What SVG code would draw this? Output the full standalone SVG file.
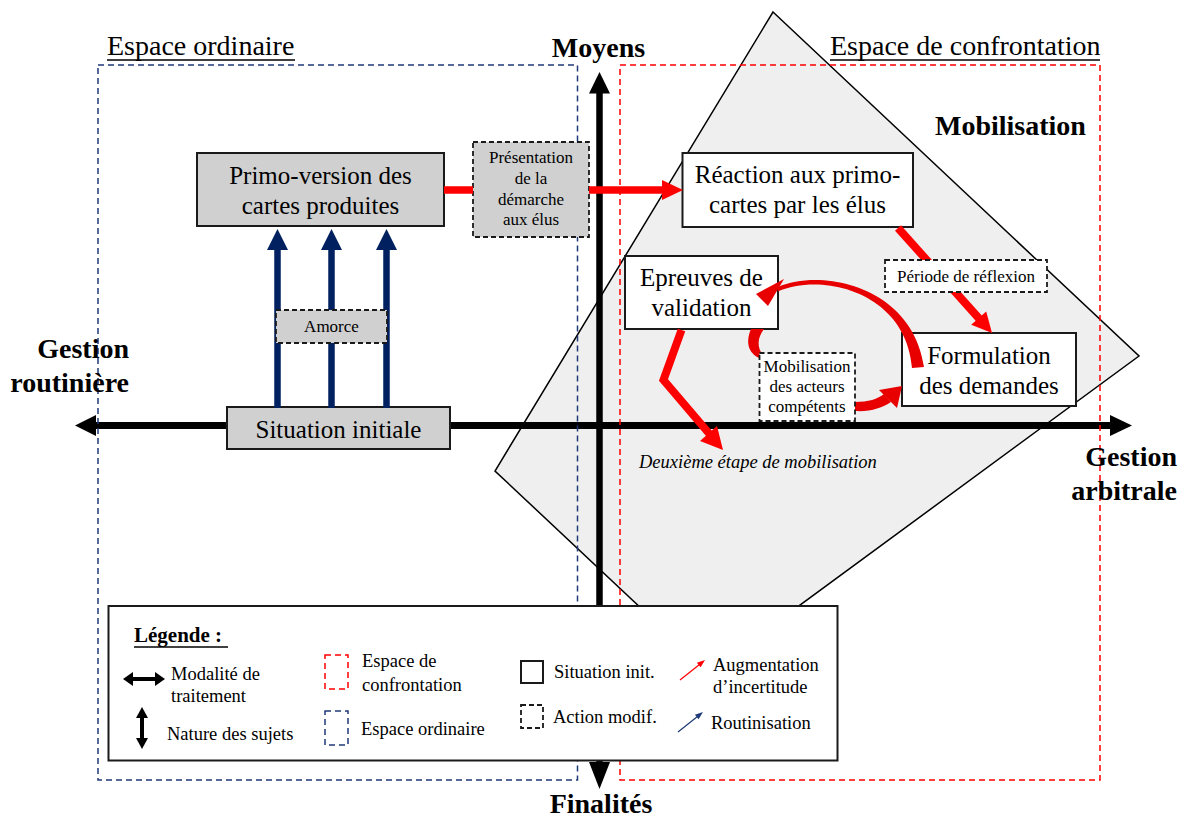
<svg xmlns="http://www.w3.org/2000/svg" width="1187" height="818" viewBox="0 0 1187 818">
<defs>
<style>
text{font-family:"Liberation Serif","Times New Roman",serif;fill:#000}
.big{font-size:25px}
.sm{font-size:17px}
.ax{font-size:28px;font-weight:bold}
.ttl{font-size:28px}
.lg{font-size:18.5px}
.mid{text-anchor:middle}
.end{text-anchor:end}
.box{stroke:#1a1a1a;stroke-width:2}
.dbox{stroke:#1a1a1a;stroke-width:1.8;stroke-dasharray:5 3}
.grey{fill:#d0d0d0}
.white{fill:#fff}
.redl{stroke:#ff0000;fill:none}
.navy{stroke:#002060;fill:none}
</style>
</defs>
<rect width="1187" height="818" fill="#fff"/>
<polygon id="mobilisation-zone" points="773,12 1139,356 709,672 495,471" fill="#efefef" stroke="#000" stroke-width="1.5"/>
<g id="axes">
<line x1="92" y1="425.5" x2="1112" y2="425.5" stroke="#000" stroke-width="7"/>
<polygon points="75,425.5 96,415 96,436"/>
<polygon points="1132,425.5 1110,415 1110,436"/>
<line x1="599.5" y1="90" x2="599.5" y2="765" stroke="#000" stroke-width="6.5"/>
<polygon points="599.5,72 589,93.5 610,93.5"/>
<polygon points="599.5,789 589,762 610,762"/>
</g>
<g id="frames">
<rect x="98" y="65" width="479.5" height="715" fill="none" stroke="#1f3a78" stroke-width="1.5" stroke-dasharray="6 4"/>
<rect x="620" y="65" width="480" height="715" fill="none" stroke="#ff0000" stroke-width="1.5" stroke-dasharray="6 4"/>
<text class="ttl" x="107" y="55">Espace ordinaire</text>
<line x1="107" y1="60" x2="295" y2="60" stroke="#000" stroke-width="1.5"/>
<text class="ttl" x="830" y="55">Espace de confrontation</text>
<line x1="830" y1="60" x2="1100" y2="60" stroke="#000" stroke-width="1.5"/>
</g>
<g id="axis-labels">
<text class="ax mid" x="598.5" y="57">Moyens</text>
<text class="ax mid" x="601" y="813">Finalités</text>
<text class="ax end" x="129" y="358">Gestion</text>
<text class="ax end" x="129" y="392">routinière</text>
<text class="ax end" x="1177" y="466">Gestion</text>
<text class="ax end" x="1177" y="500">arbitrale</text>
<text class="ax" x="935" y="135">Mobilisation</text>
</g>
<g id="primo">
<rect class="box grey" x="197" y="153" width="247" height="73"/>
<text class="big mid" x="320.5" y="184">Primo-version des</text>
<text class="big mid" x="320.5" y="214">cartes produites</text>
</g>
<g id="presentation">
<rect class="dbox grey" x="473" y="142" width="116" height="95"/>
<text class="sm mid" x="531" y="163">Présentation</text>
<text class="sm mid" x="531" y="184">de la</text>
<text class="sm mid" x="531" y="205">démarche</text>
<text class="sm mid" x="531" y="225">aux élus</text>
</g>
<g id="reaction">
<rect class="box white" x="682.5" y="153" width="230.5" height="74"/>
<text class="big mid" x="797.5" y="183">Réaction aux primo-</text>
<text class="big mid" x="797.5" y="213">cartes par les élus</text>
</g>
<g id="epreuves">
<rect class="box white" x="625" y="256" width="153" height="73"/>
<text class="big mid" x="701.5" y="286">Epreuves de</text>
<text class="big mid" x="701.5" y="316">validation</text>
</g>
<g id="formulation">
<rect class="box white" x="902" y="333" width="174" height="73"/>
<text class="big mid" x="989" y="364">Formulation</text>
<text class="big mid" x="989" y="394">des demandes</text>
</g>
<g id="situation">
<rect class="box grey" x="227" y="407" width="223" height="42"/>
<text class="big mid" x="338.5" y="438">Situation initiale</text>
</g>
<g id="connectors">
<line class="redl" x1="444" y1="190" x2="473" y2="190" stroke-width="7.5"/>
<line class="redl" x1="589" y1="190" x2="664" y2="190" stroke-width="7.5"/>
<polygon fill="#ff0000" points="662,180 683,190 662,200"/>
<line class="redl" x1="898" y1="228" x2="979.5" y2="319" stroke-width="8"/>
<polygon fill="#ff0000" points="992,333 986.2,311.4 971.2,324.8"/>
<path class="redl" d="M681.5 330 L663.5 380 L709.5 434" stroke-width="8" stroke-miterlimit="6"/>
<polygon fill="#ff0000" points="723,450 717,426 700,441"/>
<line class="navy" x1="277.5" y1="408" x2="277.5" y2="248" stroke-width="6.5"/>
<line class="navy" x1="331.5" y1="408" x2="331.5" y2="248" stroke-width="6.5"/>
<line class="navy" x1="386.5" y1="408" x2="386.5" y2="248" stroke-width="6.5"/>
<polygon fill="#002060" points="267,250 277.5,229 288,250"/>
<polygon fill="#002060" points="321,250 331.5,229 342,250"/>
<polygon fill="#002060" points="376,250 386.5,229 397,250"/>
<path fill="#e80000" d="M778 287 C822 268 912 286 924 367 L912 368 C906 292 822 272 778 291.5 Z"/>
<polygon fill="#e80000" points="756,294 784,279 768,306"/>
<path fill="#e80000" d="M751 329 C745 343 749 353 759 358 L763 355 C757 348 757 338 764 329 Z"/>
<path fill="#e80000" d="M855 402 C868 402 878 399 884 394 L891 402 C882 408 870 412 855 411 Z"/>
<polygon fill="#e80000" points="902,386 879,390 897,408"/>
</g>
<g id="periode">
<rect class="dbox white" x="885" y="260" width="162" height="32"/>
<text class="sm mid" x="966" y="282">Période de réflexion</text>
</g>
<g id="mobilisation-acteurs">
<rect class="dbox white" x="759.5" y="353" width="95.5" height="68"/>
<text class="sm mid" x="807" y="372">Mobilisation</text>
<text class="sm mid" x="807" y="392">des acteurs</text>
<text class="sm mid" x="807" y="412">compétents</text>
</g>
<g id="amorce">
<rect class="dbox grey" x="276" y="310" width="111" height="33"/>
<text class="sm mid" x="331.5" y="332">Amorce</text>
</g>
<text x="639" y="468" font-size="18.5" font-style="italic">Deuxième étape de mobilisation</text>
<g id="legend">
<rect x="108.5" y="606" width="729" height="154.5" fill="#fff" stroke="#1a1a1a" stroke-width="2"/>
<text x="134" y="642" font-size="21" font-weight="bold">Légende :</text>
<line x1="134" y1="647" x2="228" y2="647" stroke="#000" stroke-width="1.5"/>
<line x1="130" y1="679" x2="158" y2="679" stroke="#000" stroke-width="4"/>
<polygon points="123,679 133,672 133,686"/>
<polygon points="165,679 155,672 155,686"/>
<text class="lg" x="171" y="680">Modalité de</text>
<text class="lg" x="171" y="701.5">traitement</text>
<line x1="142" y1="714" x2="142" y2="742" stroke="#000" stroke-width="4"/>
<polygon points="142,707 136,718 148,718"/>
<polygon points="142,749 136,738 148,738"/>
<text class="lg" x="167" y="740">Nature des sujets</text>
<rect x="325" y="655" width="23" height="34" fill="none" stroke="#ff0000" stroke-width="1.5" stroke-dasharray="6 4"/>
<text class="lg" x="362" y="667">Espace de</text>
<text class="lg" x="362" y="690.5">confrontation</text>
<rect x="325" y="711" width="23" height="34" fill="none" stroke="#1f3a78" stroke-width="1.5" stroke-dasharray="6 4"/>
<text class="lg" x="361" y="735">Espace ordinaire</text>
<rect x="521" y="661" width="22" height="22" fill="none" stroke="#1a1a1a" stroke-width="2"/>
<text class="lg" x="554" y="678">Situation init.</text>
<rect x="521" y="705" width="22" height="23" fill="none" stroke="#1a1a1a" stroke-width="1.8" stroke-dasharray="5 3"/>
<text class="lg" x="553" y="723">Action modif.</text>
<line x1="680" y1="680" x2="699.5" y2="664.5" stroke="#ff0000" stroke-width="1.2"/>
<polygon fill="#ff0000" points="705,660 700.6,667.3 696.9,662.7"/>
<text class="lg" x="713" y="671">Augmentation</text>
<text class="lg" x="713" y="692.5">d’incertitude</text>
<line x1="678" y1="732" x2="697.5" y2="716.5" stroke="#1f3a78" stroke-width="1.2"/>
<polygon fill="#1f3a78" points="703,712 698.6,719.3 694.9,714.7"/>
<text class="lg" x="711" y="729">Routinisation</text>
</g>
</svg>
